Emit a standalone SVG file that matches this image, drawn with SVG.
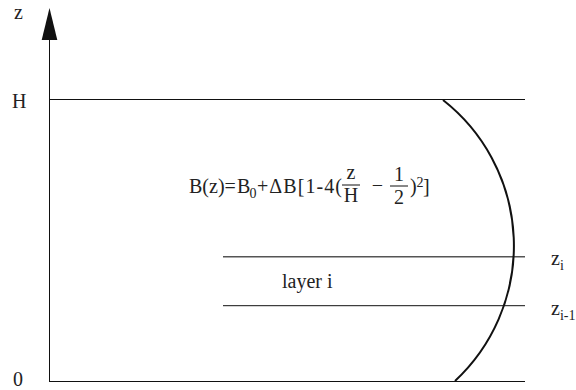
<svg xmlns="http://www.w3.org/2000/svg" width="576" height="390" viewBox="0 0 576 390">
<style>
text{font-family:"Liberation Serif","Times New Roman",serif;fill:#222;font-size:20px}
.sub{font-size:14px}
.ln{stroke:#111;stroke-width:1;fill:none}
</style>
<rect width="576" height="390" fill="#fff"/>
<g id="axes">
<line class="ln" x1="49.5" y1="381.5" x2="49.5" y2="38"/>
<polygon points="49.5,8 41.7,40 57.3,40" fill="#111"/>
<line class="ln" x1="49" y1="99.5" x2="525" y2="99.5"/>
<line class="ln" x1="49" y1="381.5" x2="525" y2="381.5"/>
</g>
<g id="layers">
<line x1="223" y1="256.7" x2="525" y2="256.7" stroke="#555" stroke-width="1.5"/>
<line class="ln" x1="223" y1="305.7" x2="525" y2="305.7"/>
</g>
<g id="profile">
<path d="M443,100 A185,185 0 0 1 455,381" fill="none" stroke="#111" stroke-width="2"/>
</g>
<g id="labels">
<text x="14" y="19">z</text>
<text x="12" y="108">H</text>
<text x="13" y="386">0</text>
<text x="551" y="265">z<tspan class="sub" dy="5">i</tspan></text>
<text x="551" y="315">z<tspan class="sub" dy="5">i-1</tspan></text>
<text x="282" y="288">layer i</text>
</g>
<g id="formula">
<text x="189" y="193">B(z)=</text>
<text x="237" y="193">B</text>
<text class="sub" x="249.5" y="198">0</text>
<text x="257" y="193" textLength="85" lengthAdjust="spacing">+ΔB[1-4(</text>
<text x="351" y="179" text-anchor="middle">z</text>
<line class="ln" x1="342" y1="185" x2="360" y2="185"/>
<text x="351" y="202" text-anchor="middle">H</text>
<text x="377.5" y="192" text-anchor="middle">−</text>
<text x="399" y="181" text-anchor="middle">1</text>
<line class="ln" x1="390" y1="186" x2="408" y2="186"/>
<text x="399" y="203.5" text-anchor="middle">2</text>
<text x="410" y="193">)</text>
<text class="sub" x="416.5" y="187">2</text>
<text x="423" y="193">]</text>
</g>
</svg>
